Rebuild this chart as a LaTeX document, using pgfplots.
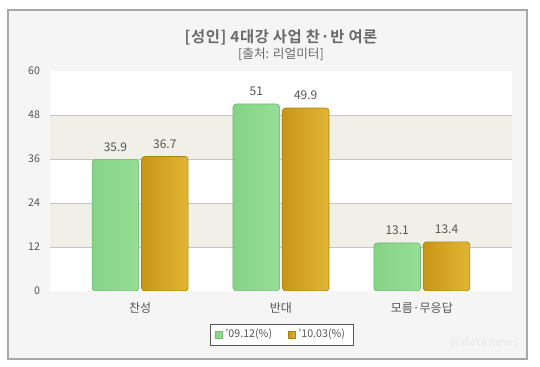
\documentclass[border=0pt]{standalone}
\usepackage{pgfplots}
\pgfplotsset{compat=1.18}
\usepackage{fontspec}
\setmainfont{Noto Sans CJK KR}[BoldFont={Noto Sans CJK KR Bold}]
\definecolor{framebg}{HTML}{F5F5F5}
\definecolor{framedraw}{HTML}{A8A8A8}
\definecolor{band}{HTML}{F0F0E8}
\definecolor{gridc}{HTML}{C4C4C4}
\definecolor{txt}{HTML}{555555}
\definecolor{ttl}{HTML}{6A6A6A}
\definecolor{gL}{HTML}{86D386}
\definecolor{gM}{HTML}{B6F4B6}
\definecolor{gR}{HTML}{96DE96}
\definecolor{gE}{HTML}{74B874}
\definecolor{yL}{HTML}{C99616}
\definecolor{yM}{HTML}{F2CA52}
\definecolor{yR}{HTML}{E2B535}
\definecolor{yE}{HTML}{A8840E}
\pgfplotsset{
  gbar/.style={draw=gE, line width=0.5pt, left color=gL, middle color=gM, right color=gR, rounded corners=2.5pt, bar shift=-18.5pt},
  ybarr/.style={draw=yE, line width=0.5pt, left color=yL, middle color=yM, right color=yR, rounded corners=2.5pt, bar shift=18.5pt},
}
\begin{document}
\begin{tikzpicture}[x=1pt,y=1pt]
\path (0,0) rectangle (405,275.25);
\draw[framedraw, fill=framebg, line width=0.9pt] (6,6) rectangle (395.25,267.75);
\fill[white] (37.5,57) rectangle (384,222);
\fill[band] (37.5,90) rectangle (384,123);
\fill[band] (37.5,156) rectangle (384,189);
\node[font=\bfseries\fontsize{11.5}{13}\selectfont\addfontfeature{LetterSpace=4}, text=ttl] at (210.75,247.5) {[성인] 4대강 사업 찬·반 여론};
\node[font=\fontsize{9.5}{11}\selectfont, text=ttl] at (210.75,234.5) {[출처: 리얼미터]};
\node[font=\bfseries\fontsize{9}{11}\selectfont, text=black!7] at (363,18) {@datanews};
\begin{axis}[
  at={(37.5pt,57pt)}, anchor=south west,
  scale only axis, width=346.5pt, height=165pt,
  ybar, bar width=35pt,
  xmin=-0.64, xmax=2.64, ymin=0, ymax=60,
  xtick={0,1,2}, xticklabels={찬성,반대,모름·무응답},
  ytick={12,24,36,48},
  extra y ticks={0,60},
  extra y tick style={grid=none},
  ymajorgrids, grid style={gridc, line width=0.6pt},
  axis line style={draw=none},
  major tick length=0pt,
  /pgf/number format/assume math mode=true,
  yticklabel style={font=\fontsize{8}{9}\selectfont, text=txt, xshift=-4pt},
  xticklabel style={font=\fontsize{9}{10}\selectfont, text=txt, yshift=-5pt},
  nodes near coords,
  every node near coord/.append style={font=\fontsize{9}{10}\selectfont, text=txt, yshift=2.5pt},
  nodes near coords style={/pgf/number format/.cd, fixed, precision=1, assume math mode=true},
  legend style={at={(0.501,-0.198)}, anchor=center, draw=txt, fill=white,
    font=\fontsize{8}{9}\selectfont, text=txt, legend columns=2,
    /tikz/every even column/.append style={column sep=10pt},
    inner xsep=4pt, inner ysep=2pt},
  legend image code/.code={\fill[#1, sharp corners] (0pt,-2.6pt) rectangle (5.2pt,2.6pt);},
]
\addplot[gbar] coordinates {(0,35.9)};
\addplot[ybarr] coordinates {(0,36.7)};
\addplot[gbar, forget plot] coordinates {(1,51)};
\addplot[ybarr, forget plot] coordinates {(1,49.9)};
\addplot[gbar, forget plot] coordinates {(2,13.1)};
\addplot[ybarr, forget plot] coordinates {(2,13.4)};
\legend{’09.12(\%), ’10.03(\%)}
\end{axis}
\end{tikzpicture}
\end{document}
